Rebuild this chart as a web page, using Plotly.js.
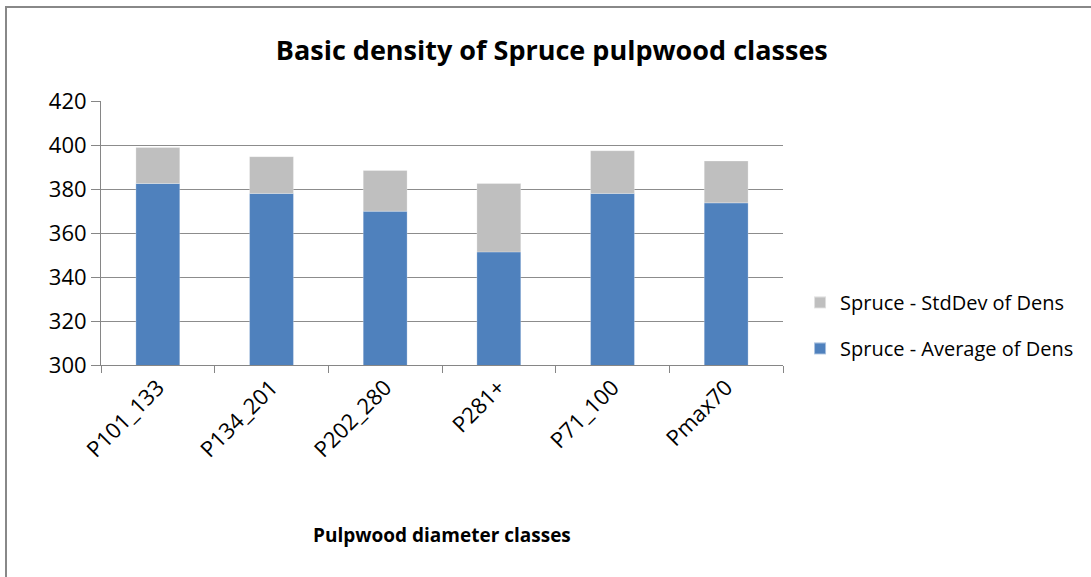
<!DOCTYPE html>
<html>
<head>
<meta charset="utf-8">
<script src="https://cdn.plot.ly/plotly-3.0.1.min.js"></script>
<style>
  html, body { margin: 0; padding: 0; background: #fff; }
  #wrap { position: relative; width: 1091px; height: 577px; overflow: hidden; }
  #chart { width: 1091px; height: 577px; }
  #frame { position: absolute; left: 5px; top: 6px; width: 1200px; height: 700px;
           border-top: 2px solid #888; border-left: 2px solid #888; pointer-events: none; }
</style>
</head>
<body>
<div id="wrap">
  <div id="chart"></div>
  <div id="frame"></div>
</div>
<script>
const categories = ["P101_133", "P134_201", "P202_280", "P281+", "P71_100", "Pmax70"];
const averageDens = [382.5, 378.0, 369.9, 351.4, 378.0, 373.7];
const stdDevDens  = [16.4, 16.7, 18.5, 31.1, 19.4, 19.0];
const yTicks = [300, 320, 340, 360, 380, 400, 420];

const font = "Open Sans, DejaVu Sans, sans-serif";

const traces = [
  {
    type: "bar", name: "Spruce - Average of Dens", legendgroup: "avg", legendrank: 2,
    x: categories, y: averageDens,
    marker: { color: "#4f81bd", line: { color: "rgba(255,255,255,0.5)", width: 0.5 } },
    hoverinfo: "x+y"
  },
  {
    type: "bar", name: "Spruce - StdDev of Dens", legendgroup: "sd", legendrank: 1,
    x: categories, y: stdDevDens,
    base: averageDens,
    marker: { color: "#bfbfbf", line: { color: "rgba(255,255,255,0.5)", width: 0.5 } },
    hoverinfo: "x+y"
  }
];

const layout = {
  width: 1091, height: 577,
  margin: { l: 101, r: 306, t: 101, b: 212 },
  paper_bgcolor: "#ffffff", plot_bgcolor: "#ffffff",
  barmode: "overlay",
  bargap: 0.614,
  showlegend: true,
  font: { family: font, color: "#000" },
  title: {
    text: "<b>Basic density of Spruce pulpwood classes</b>",
    font: { family: font, size: 27, color: "#000" },
    xref: "paper", x: 0.661, xanchor: "center",
    yref: "container", y: 0.913, yanchor: "middle"
  },
  xaxis: {
    type: "category",
    showgrid: false,
    showline: true, linecolor: "#868686", linewidth: 1,
    ticks: "outside", tickson: "boundaries", ticklen: 7, tickcolor: "#868686",
    tickangle: -45,
    tickfont: { family: font, size: 22, color: "#000" },
    zeroline: false
  },
  yaxis: {
    range: [300, 420],
    tickvals: yTicks,
    ticktext: yTicks.map(String),
    showgrid: true, gridcolor: "#8c8c8c", gridwidth: 1,
    showline: true, linecolor: "#868686", linewidth: 1,
    ticks: "outside", ticklen: 9, tickcolor: "#868686",
    tickfont: { family: font, size: 22, color: "#000" },
    zeroline: false
  },
  legend: {
    x: 1.025, xanchor: "left",
    y: 0.15, yanchor: "middle",
    traceorder: "grouped",
    font: { family: font, size: 20, color: "#000" },
    itemsizing: "constant",
    tracegroupgap: 17,
    bgcolor: "rgba(0,0,0,0)"
  },
  annotations: [
    {
      text: "<b>Pulpwood diameter classes</b>",
      xref: "paper", yref: "paper",
      x: 0.5, y: -0.644, xanchor: "center", yanchor: "middle",
      showarrow: false,
      font: { family: font, size: 19, color: "#000" }
    }
  ]
};

Plotly.newPlot("chart", traces, layout, { displayModeBar: false, staticPlot: true });
</script>
</body>
</html>
